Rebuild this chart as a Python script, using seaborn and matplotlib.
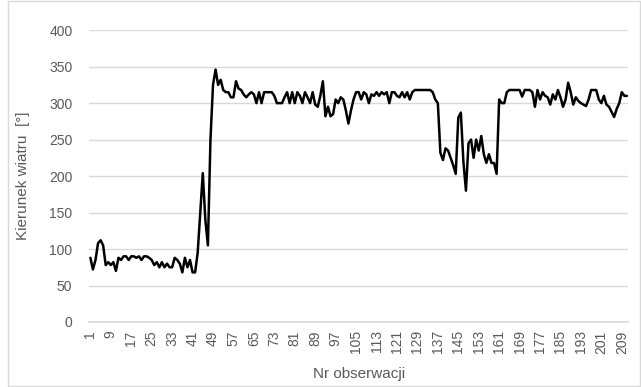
import numpy as np
import pandas as pd
import matplotlib
matplotlib.use("Agg")
import matplotlib.pyplot as plt
import seaborn as sns
from matplotlib.patches import Rectangle

# Wind direction [deg] for consecutive observations
kierunek_1 = [88, 72, 85, 108, 112, 105, 78, 82, 78, 82,
              70, 88, 85, 90, 90, 85, 90, 90, 88, 90,
              85, 90, 90, 88, 85, 78, 82, 75, 82, 75,
              80, 75, 75, 88, 85, 80, 68, 88, 75, 85]
kierunek_2 = [68, 68, 95, 150, 204, 140, 105, 250, 325, 346,
              325, 332, 318, 315, 315, 308, 308, 330, 320, 318,
              312, 308, 312, 315, 312, 300, 315, 300, 315, 315,
              315, 315, 310, 300, 300, 300, 308, 315, 300, 315]
kierunek_3 = [300, 315, 310, 300, 315, 308, 300, 315, 298, 295,
              310, 330, 282, 295, 282, 285, 305, 300, 308, 305,
              290, 272, 290, 305, 315, 315, 305, 315, 312, 300,
              312, 310, 315, 310, 315, 312, 315, 300, 315, 315]
kierunek_4 = [310, 308, 315, 308, 315, 305, 315, 318, 318, 318,
              318, 318, 318, 318, 315, 305, 300, 232, 222, 238,
              235, 225, 215, 203, 280, 287, 220, 180, 245, 250,
              225, 250, 235, 255, 230, 218, 230, 218, 218, 203]
kierunek_5 = [305, 300, 300, 315, 318, 318, 318, 318, 318, 309,
              318, 318, 318, 315, 295, 318, 305, 315, 310, 308,
              298, 312, 305, 318, 308, 295, 305, 328, 315, 298,
              308, 303, 300, 298, 296, 305, 318, 318, 318, 305,
              300, 310, 298, 295, 288, 281, 292, 300, 315, 310,
              310]

kierunek = kierunek_1 + kierunek_2 + kierunek_3 + kierunek_4 + kierunek_5
nr_obserwacji = list(range(1, len(kierunek) + 1))
x_ticks = list(range(1, len(kierunek) + 1, 8))
y_ticks = [0, 50, 100, 150, 200, 250, 300, 350, 400]

df = pd.DataFrame({"Nr obserwacji": nr_obserwacji, "Kierunek": kierunek})

sns.set_theme(style="white")
plt.rcParams["font.family"] = ["Liberation Sans", "DejaVu Sans"]

fig = plt.figure(figsize=(6.41, 3.87), dpi=100)
ax = fig.add_axes([0.139, 0.168, 0.841, 0.754])

sns.lineplot(data=df, x="Nr obserwacji", y="Kierunek", ax=ax,
             color="black", linewidth=1.8, zorder=3)

ax.set_xlim(0.5, len(kierunek) + 0.5)
ax.set_ylim(0, 400)
ax.set_yticks(y_ticks)
ax.set_xticks(x_ticks)
ax.set_xticklabels([str(t) for t in x_ticks], rotation=90)

ax.grid(axis="y", color="#d9d9d9", linewidth=1)
ax.set_axisbelow(True)
for side in ["left", "right", "top"]:
    ax.spines[side].set_visible(False)
ax.spines["bottom"].set_color("#d9d9d9")
ax.tick_params(axis="both", length=0, labelsize=10, labelcolor="#595959")
ax.tick_params(axis="y", pad=12)
ax.tick_params(axis="x", pad=6)

ax.set_xlabel("Nr obserwacji", fontsize=11, color="#595959", labelpad=10)
ax.set_ylabel("Kierunek wiatru  [°]", fontsize=11, color="#595959", labelpad=14)

# chart frame
fig.patches.append(Rectangle((8 / 641, 0.002), 1 - 9 / 641, 0.996,
                             transform=fig.transFigure, fill=False,
                             edgecolor="#d9d9d9", linewidth=1))

fig.savefig("out.png", dpi=100, facecolor="white")
